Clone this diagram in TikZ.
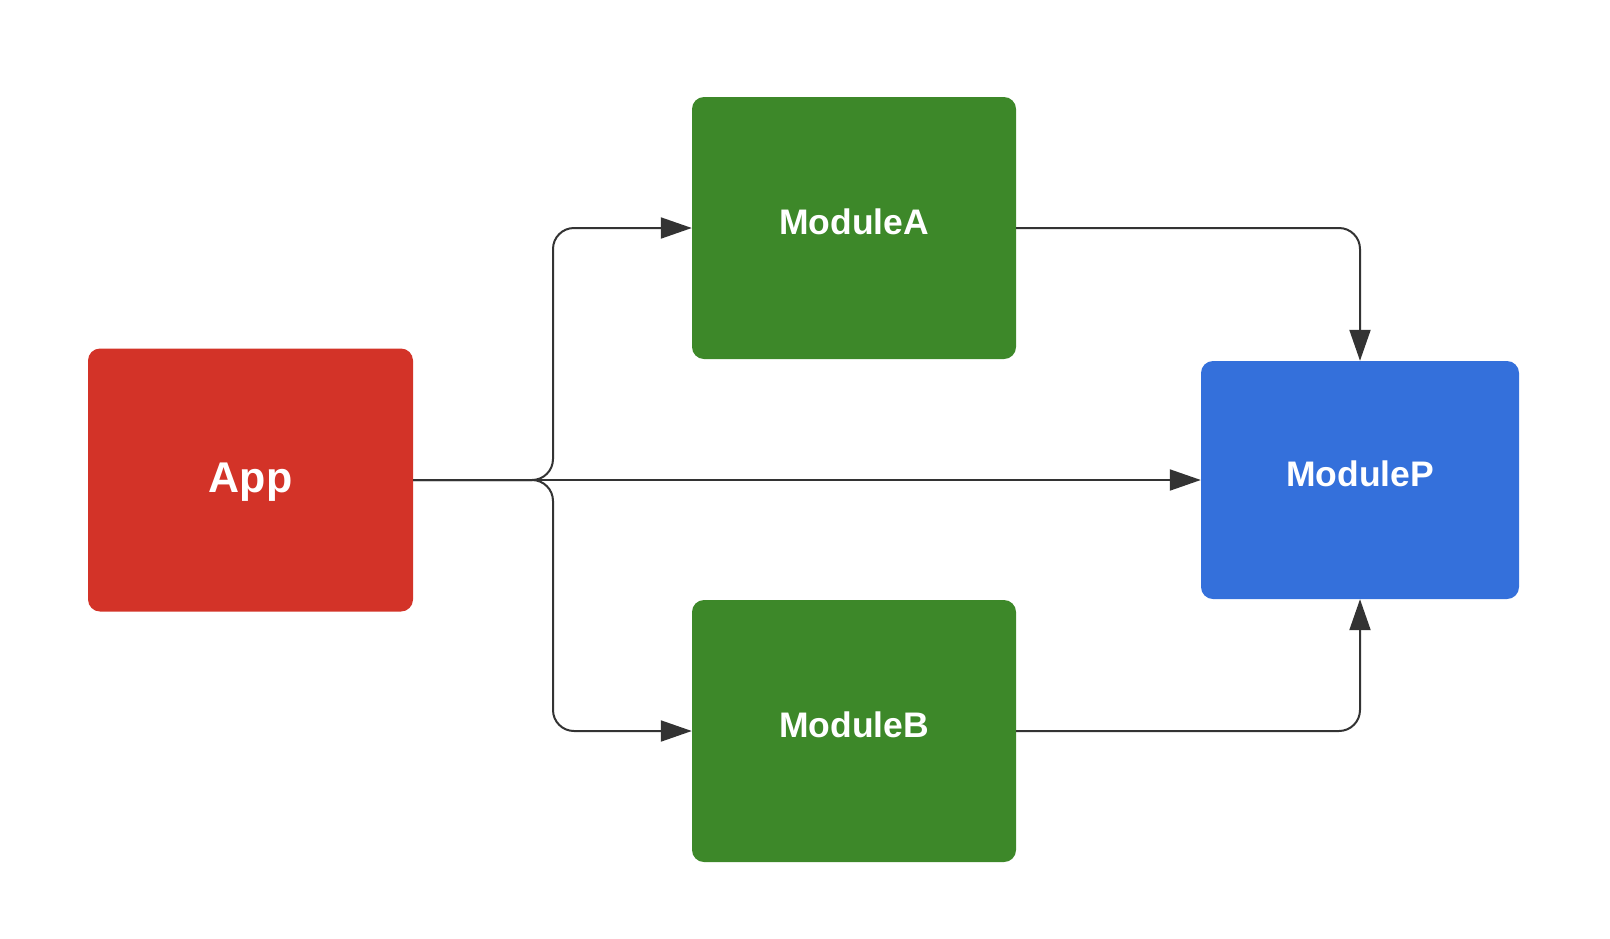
\documentclass[tikz,border=0pt]{standalone}
\usepackage{fontspec}
\setmainfont{Liberation Sans}
\usetikzlibrary{arrows.meta}
\definecolor{appred}{HTML}{D33328}
\definecolor{modgreen}{HTML}{3D8829}
\definecolor{modblue}{HTML}{3470DB}
\definecolor{wire}{HTML}{333333}
\tikzset{
	box/.style={rounded corners=12pt,inner sep=0pt,text=white,font=\fontsize{43}{50}\selectfont\bfseries,text height=31pt,text depth=6pt},
	modbox/.style={box,font=\fontsize{35.5}{42}\selectfont\bfseries,text height=26pt,text depth=14pt},
	link/.style={draw=wire,line width=2pt,rounded corners=21pt,-{Triangle[length=31pt,width=21pt]}}
}
\begin{document}
\begin{tikzpicture}[x=1pt,y=-1pt]
	\useasboundingbox (0,0) rectangle (1610,938);
	\def\split{553}

	\node[box,fill=appred,minimum width=325pt,minimum height=263pt] (app) at (250.5,480) {App};
	\node[modbox,fill=modgreen,minimum width=324pt,minimum height=262pt] (moda) at (854,228) {ModuleA};
	\node[modbox,fill=modgreen,minimum width=324pt,minimum height=262pt] (modb) at (854,731) {ModuleB};
	\node[modbox,fill=modblue,minimum width=318pt,minimum height=238pt] (modp) at (1360,480) {ModuleP};

	\draw[link] (app.east) -- (\split,480) -- (\split,228) -- (moda.west);
	\draw[link] (app.east) -- (\split,480) -- (\split,731) -- (modb.west);
	\draw[link] (app.east) -- (modp.west);

	\draw[link] (moda.east) -| (modp.north);
	\draw[link] (modb.east) -| (modp.south);
\end{tikzpicture}
\end{document}
